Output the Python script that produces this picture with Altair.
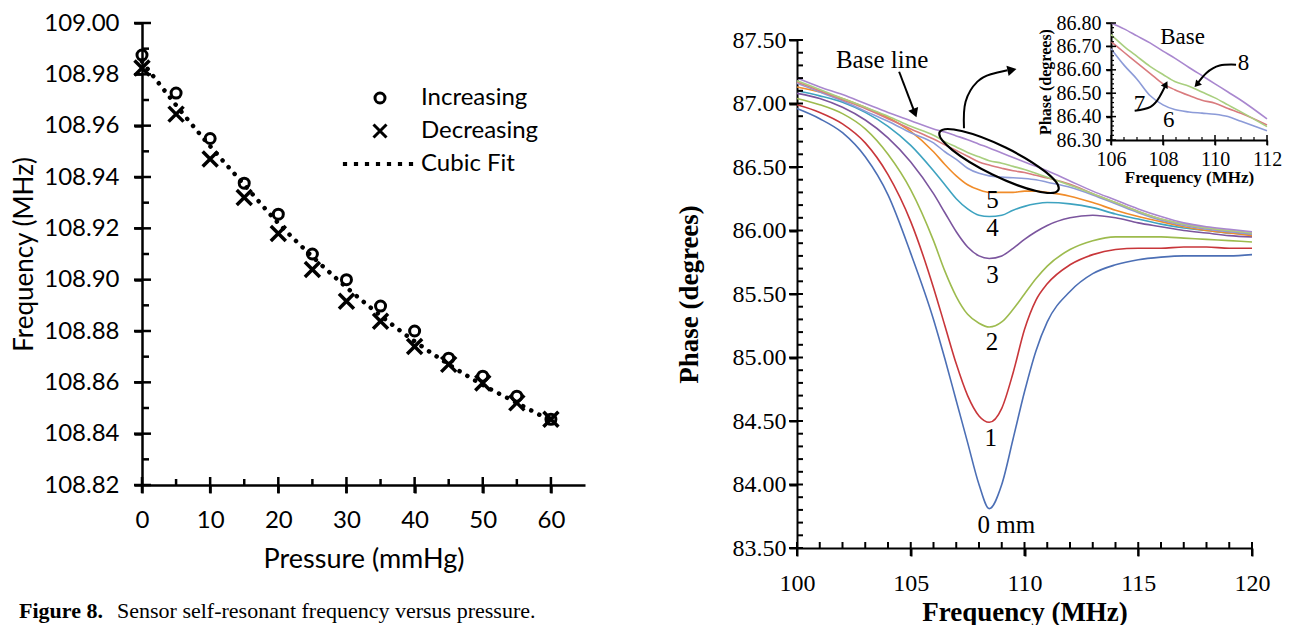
import altair as alt
import pandas as pd

# ------------------------------------------------------------------
# Left panel: sensor self-resonant frequency vs pressure
# ------------------------------------------------------------------
pressure_mmHg = [0, 5, 10, 15, 20, 25, 30, 35, 40, 45, 50, 55, 60]
freq_increasing = [108.9875, 108.9727, 108.9550, 108.9376, 108.9255, 108.9100, 108.9000,
                   108.8897, 108.8800, 108.8694, 108.8624, 108.8546, 108.8456]
freq_decreasing = [108.9825, 108.9645, 108.9470, 108.9320, 108.9180, 108.9040, 108.8916,
                   108.8838, 108.8740, 108.8670, 108.8597, 108.8520, 108.8456]
freq_cubic_fit = [108.9850, 108.9680, 108.9520, 108.9370, 108.9220, 108.9090, 108.8970,
                  108.8860, 108.8760, 108.8670, 108.8590, 108.8520, 108.8450]
series_names = ["Increasing", "Decreasing", "Cubic Fit"]

left_x_major = [0, 10, 20, 30, 40, 50, 60]
left_x_minor = [5, 15, 25, 35, 45, 55]
left_y_major = [108.82, 108.84, 108.86, 108.88, 108.90, 108.92, 108.94, 108.96, 108.98, 109.00]
left_y_minor = [108.83, 108.85, 108.87, 108.89, 108.91, 108.93, 108.95, 108.97, 108.99]

# ------------------------------------------------------------------
# Right panel: phase vs frequency for several distances
# ------------------------------------------------------------------
freq_MHz = [100, 101, 102, 103, 104, 105, 106, 106.5, 107, 107.5, 108, 108.45, 109, 109.5,
            110, 110.5, 111, 112, 113, 114, 115, 116, 117, 118, 119, 120]
phase_0mm = [86.96, 86.88, 86.77, 86.58, 86.28, 85.82, 85.30, 84.99, 84.66, 84.33, 84.00, 83.81,
             84.00, 84.36, 84.73, 85.05, 85.28, 85.52, 85.66, 85.73, 85.77, 85.79, 85.80, 85.80,
             85.80, 85.81]
phase_1mm = [86.99, 86.93, 86.84, 86.69, 86.44, 86.07, 85.55, 85.25, 84.95, 84.70, 84.54, 84.49,
             84.60, 84.88, 85.22, 85.45, 85.58, 85.73, 85.81, 85.85, 85.86, 85.86, 85.87, 85.87,
             85.86, 85.86]
phase_2mm = [87.04, 86.99, 86.92, 86.80, 86.60, 86.32, 85.92, 85.68, 85.48, 85.34, 85.27, 85.24,
             85.28, 85.38, 85.50, 85.62, 85.72, 85.85, 85.92, 85.95, 85.95, 85.95, 85.94, 85.93,
             85.92, 85.91]
phase_3mm = [87.08, 87.04, 86.97, 86.87, 86.73, 86.54, 86.29, 86.14, 85.99, 85.87, 85.80, 85.78,
             85.80, 85.86, 85.93, 85.99, 86.04, 86.10, 86.12, 86.10, 86.06, 86.03, 86.00, 85.98,
             85.96, 85.95]
phase_4mm = [87.10, 87.06, 87.01, 86.93, 86.82, 86.67, 86.47, 86.36, 86.25, 86.17, 86.12, 86.11,
             86.12, 86.16, 86.19, 86.21, 86.22, 86.21, 86.18, 86.13, 86.09, 86.05, 86.02, 86.00,
             85.98, 85.97]
phase_5mm = [87.13, 87.09, 87.04, 86.97, 86.89, 86.78, 86.62, 86.52, 86.43, 86.36, 86.32, 86.30,
             86.30, 86.30, 86.31, 86.31, 86.30, 86.27, 86.22, 86.16, 86.11, 86.07, 86.03, 86.00,
             85.98, 85.96]
phase_6mm = [87.16, 87.09, 87.02, 86.94, 86.86, 86.77, 86.69, 86.62, 86.56, 86.49, 86.45, 86.43,
             86.42, 86.415, 86.41, 86.40, 86.38, 86.34, 86.28, 86.21, 86.14, 86.08, 86.04, 86.01,
             85.99, 85.97]
phase_7mm = [87.17, 87.10, 87.03, 86.96, 86.88, 86.80, 86.72, 86.675, 86.63, 86.585, 86.54, 86.515,
             86.49, 86.47, 86.457, 86.435, 86.414, 86.364, 86.29, 86.22, 86.15, 86.09, 86.05, 86.02,
             86.00, 85.98]
phase_8mm = [87.18, 87.11, 87.04, 86.97, 86.90, 86.82, 86.75, 86.70, 86.657, 86.615, 86.58, 86.55,
             86.53, 86.505, 86.48, 86.45, 86.42, 86.357, 86.29, 86.22, 86.15, 86.09, 86.05, 86.02,
             86.00, 85.98]
phase_base = [87.20, 87.13, 87.07, 87.00, 86.93, 86.865, 86.80, 86.775, 86.745, 86.715, 86.68, 86.65,
              86.61, 86.575, 86.54, 86.505, 86.47, 86.39, 86.31, 86.24, 86.17, 86.11, 86.06, 86.03,
              86.01, 85.99]

curve_names = ["0 mm", "1 mm", "2 mm", "3 mm", "4 mm", "5 mm", "6 mm", "7 mm", "8 mm", "Base line"]
curve_values = [phase_0mm, phase_1mm, phase_2mm, phase_3mm, phase_4mm, phase_5mm,
                phase_6mm, phase_7mm, phase_8mm, phase_base]
curve_colors = ["#4C6FB5", "#C8363A", "#9DBB4E", "#7B559E", "#3EA3C0", "#F08C2A",
                "#8C9BD8", "#D97B7E", "#A9CF7F", "#A987CF"]

right_x_major = [100, 105, 110, 115, 120]
right_x_all = list(range(100, 121))
right_y_major = [83.5, 84.0, 84.5, 85.0, 85.5, 86.0, 86.5, 87.0, 87.5]
right_y_all = [round(83.5 + 0.1 * i, 1) for i in range(41)]
inset_x_major = [106, 108, 110, 112]
inset_x_minor = [106.5, 107, 107.5, 108.5, 109, 109.5, 110.5, 111, 111.5]
inset_y_major = [86.3, 86.4, 86.5, 86.6, 86.7, 86.8]
inset_y_minor = [round(86.3 + 0.02 * i, 2) for i in range(26) if i % 5 != 0]

# annotation tables (data coordinates)
main_label_text = ["Base line", "5", "4", "3", "2", "1", "0 mm"]
main_label_f = [103.74, 108.59, 108.59, 108.59, 108.57, 108.52, 109.2]
main_label_v = [87.34, 86.24, 86.02, 85.65, 85.12, 84.37, 83.68]

arrow_id = ["big"] * 5 + ["base"] * 2
arrow_f = [107.34, 107.41, 107.93, 108.52, 109.25, 104.49, 105.15]
arrow_v = [86.805, 87.014, 87.172, 87.230, 87.262, 87.25, 86.94]
head_f = [109.45, 105.18]
head_v = [87.265, 86.925]
head_angle = [348, 69]

ellipse_f = [108.88]
ellipse_v = [86.547]

inset_label_text = ["Base", "8", "7", "6"]
inset_label_f = [108.75, 111.1, 107.1, 108.22]
inset_label_v = [86.742, 86.627, 86.455, 86.386]
inset_arrow_id = ["a8"] * 4 + ["a7"] * 4
inset_arrow_f = [110.81, 110.18, 109.67, 109.32, 106.91, 107.52, 107.87, 108.10]
inset_arrow_v = [86.622, 86.618, 86.586, 86.540, 86.425, 86.442, 86.485, 86.534]
inset_head_f = [109.30, 108.11]
inset_head_v = [86.537, 86.538]
inset_head_angle = [132, 298]

# ------------------------------------------------------------------
# Tables
# ------------------------------------------------------------------
df_pts = pd.DataFrame({
    "pressure": pressure_mmHg * 2,
    "freq": freq_increasing + freq_decreasing,
    "series": ["Increasing"] * len(pressure_mmHg) + ["Decreasing"] * len(pressure_mmHg),
})
df_fit = pd.DataFrame({"pressure": pressure_mmHg, "freq": freq_cubic_fit})

rows = []
for name, vals in zip(curve_names, curve_values):
    for f, v in zip(freq_MHz, vals):
        rows.append({"f": f, "v": v, "curve": name})
df_curves = pd.DataFrame(rows)

df_main_labels = pd.DataFrame({"t": main_label_text, "f": main_label_f, "v": main_label_v})
df_arrows = pd.DataFrame({"id": arrow_id, "f": arrow_f, "v": arrow_v,
                          "o": list(range(len(arrow_f)))})
df_heads = pd.DataFrame({"f": head_f, "v": head_v, "a": head_angle})
df_ellipse = pd.DataFrame({"f": ellipse_f, "v": ellipse_v})
df_inset_labels = pd.DataFrame({"t": inset_label_text, "f": inset_label_f, "v": inset_label_v})
df_inset_arrows = pd.DataFrame({"id": inset_arrow_id, "f": inset_arrow_f, "v": inset_arrow_v,
                                "o": list(range(len(inset_arrow_f)))})
df_inset_heads = pd.DataFrame({"f": inset_head_f, "v": inset_head_v, "a": inset_head_angle})

SANS = "Lato"
SERIF = "Liberation Serif"


def hticks(values, field, scale, x0, x1, width):
    """horizontal tick marks on a y axis"""
    return alt.Chart(pd.DataFrame({field: values})).mark_rule(color="black", strokeWidth=width).encode(
        y=alt.Y(f"{field}:Q", scale=scale, axis=None), x=alt.value(x0), x2=alt.value(x1))


def vticks(values, field, scale, y0, y1, width):
    """vertical tick marks on an x axis"""
    return alt.Chart(pd.DataFrame({field: values})).mark_rule(color="black", strokeWidth=width).encode(
        x=alt.X(f"{field}:Q", scale=scale, axis=None), y=alt.value(y0), y2=alt.value(y1))


# ------------------------------------------------------------------
# Left chart
# ------------------------------------------------------------------
LW, LH = 443, 445
X_PATH = "M-1.3,-1.3L1.3,1.3M1.3,-1.3L-1.3,1.3"
DOTS_PATH = " ".join(f"M{x - 0.12:.2f},-0.12h0.24v0.24h-0.24Z" for x in [-7, -4.8, -2.6, -0.4, 1.8, 4.0, 6.2])

lx_scale = alt.Scale(domain=[0, 65], nice=False, zero=False)
ly_scale = alt.Scale(domain=[108.82, 109.0], range=[LH, -17], nice=False, zero=False)

lx_outer = alt.Axis(values=left_x_major, tickSize=8, title="Pressure (mmHg)", labelFont=SANS,
                    labelFontSize=24, titleFont=SANS, titleFontSize=27, titleFontWeight="normal",
                    domainWidth=2.5, tickWidth=2.5, labelPadding=15, titlePadding=14, format="d",
                    labelOverlap=False)
ly_outer = alt.Axis(values=left_y_major, tickSize=8, format=".2f", title="Frequency (MHz)",
                    labelFont=SANS, labelFontSize=24, titleFont=SANS, titleFontSize=26,
                    titleFontWeight="normal", domainWidth=2.5, tickWidth=2.5, labelPadding=15,
                    titlePadding=6, labelOverlap=False)

shape_scale = alt.Scale(domain=series_names, range=["circle", X_PATH, DOTS_PATH])
legend = alt.Legend(orient="none", legendX=226, legendY=46, title=None, labelFont=SANS, labelFontSize=24,
                    symbolSize=100, symbolStrokeWidth=3, symbolStrokeColor="black", labelOffset=29,
                    rowPadding=8, padding=0, labelColor="black")

fit_line = alt.Chart(df_fit).mark_line(color="black", strokeDash=[0.1, 9], strokeCap="round",
                                       strokeWidth=4.5, interpolate="monotone").encode(
    x=alt.X("pressure:Q", scale=lx_scale, axis=lx_outer),
    y=alt.Y("freq:Q", scale=ly_scale, axis=ly_outer),
)
xs = alt.Chart(df_pts).transform_filter("datum.series == 'Decreasing'").mark_point(
    filled=False, color="black", strokeWidth=3.5, size=133, opacity=1).encode(
    x=alt.X("pressure:Q", scale=lx_scale, axis=None),
    y=alt.Y("freq:Q", scale=ly_scale, axis=None),
    shape=alt.Shape("series:N", scale=shape_scale, legend=legend),
)
circles = alt.Chart(df_pts).transform_filter("datum.series == 'Increasing'").mark_point(
    filled=False, color="black", strokeWidth=3, size=100, opacity=1).encode(
    x=alt.X("pressure:Q", scale=lx_scale, axis=None),
    y=alt.Y("freq:Q", scale=ly_scale, axis=None),
    shape=alt.Shape("series:N", scale=shape_scale, legend=legend),
)
left_ticks = [
    hticks(left_y_major, "freq", ly_scale, -8, 9, 2.5),
    hticks(left_y_minor, "freq", ly_scale, 0, 7, 2.5),
    vticks(left_x_major, "pressure", lx_scale, LH + 8, LH - 8, 2.5),
    vticks(left_x_minor, "pressure", lx_scale, LH, LH - 6, 2.5),
]
cap_bold = alt.Chart(pd.DataFrame({"t": ["Figure 8."]})).mark_text(
    font=SERIF, fontSize=22, fontWeight="bold", align="left", baseline="middle", color="black").encode(
    text="t:N", x=alt.value(-123), y=alt.value(571))
cap_rest = alt.Chart(pd.DataFrame({"t": ["Sensor self-resonant frequency versus pressure."]})).mark_text(
    font=SERIF, fontSize=22, align="left", baseline="middle", color="black").encode(
    text="t:N", x=alt.value(-25), y=alt.value(571))

left = alt.layer(fit_line, *left_ticks, xs, circles, cap_bold, cap_rest).resolve_axis(
    x="independent", y="independent").properties(width=LW, height=LH)

# ------------------------------------------------------------------
# Right chart
# ------------------------------------------------------------------
RW, RH = 455, 508
color_scale = alt.Scale(domain=curve_names, range=curve_colors)
mx_scale = alt.Scale(domain=[100, 120], nice=False, zero=False)
my_scale = alt.Scale(domain=[83.5, 87.5], nice=False, zero=False)

mx_outer = alt.Axis(values=right_x_major, tickSize=8, title="Frequency (MHz)", labelFont=SERIF,
                    labelFontSize=24, titleFont=SERIF, titleFontSize=27, titleFontWeight="bold",
                    domainWidth=2, tickWidth=2, labelPadding=15, titlePadding=4, format="d",
                    labelOverlap=False)
my_outer = alt.Axis(values=right_y_major, tickSize=8, format=".2f", title="Phase (degrees)",
                    labelFont=SERIF, labelFontSize=24, titleFont=SERIF, titleFontSize=27,
                    titleFontWeight="bold", domainWidth=2, tickWidth=2, labelPadding=3,
                    titlePadding=29, labelOverlap=False)

main_lines = alt.Chart(df_curves).mark_line(strokeWidth=1.6, interpolate="monotone").encode(
    x=alt.X("f:Q", scale=mx_scale, axis=mx_outer),
    y=alt.Y("v:Q", scale=my_scale, axis=my_outer),
    color=alt.Color("curve:N", scale=color_scale, legend=None),
    order=alt.Order("f:Q"),
)
main_ticks = [
    hticks(right_y_major, "v", my_scale, -8, 0, 2),
    hticks(right_y_all, "v", my_scale, 0, 6, 2),
    vticks(right_x_major, "f", mx_scale, RH + 8, RH, 2),
    vticks(right_x_all, "f", mx_scale, RH, RH - 6, 2),
]
ELLIPSE = "M-1,0A1,0.227,0,1,1,1,0A1,0.227,0,1,1,-1,0Z"
ellipse = alt.Chart(df_ellipse).mark_point(shape=ELLIPSE, size=17424, angle=26, filled=False,
                                           color="black", strokeWidth=2.2, opacity=1).encode(
    x=alt.X("f:Q", scale=mx_scale, axis=None), y=alt.Y("v:Q", scale=my_scale, axis=None))
arrows = alt.Chart(df_arrows).mark_line(color="black", strokeWidth=2, interpolate="natural").encode(
    x=alt.X("f:Q", scale=mx_scale, axis=None), y=alt.Y("v:Q", scale=my_scale, axis=None),
    detail="id:N", order="o:Q")
heads = alt.Chart(df_heads).mark_point(shape="triangle-right", filled=True, color="black", size=110,
                                       opacity=1).encode(
    x=alt.X("f:Q", scale=mx_scale, axis=None), y=alt.Y("v:Q", scale=my_scale, axis=None),
    angle=alt.Angle("a:Q", scale=None))
main_text = alt.Chart(df_main_labels).mark_text(font=SERIF, fontSize=25, color="black",
                                                align="center", baseline="middle").encode(
    x=alt.X("f:Q", scale=mx_scale, axis=None), y=alt.Y("v:Q", scale=my_scale, axis=None), text="t:N")

right_main = alt.layer(main_lines, *main_ticks, ellipse, arrows, heads, main_text).resolve_axis(
    x="independent", y="independent")

# inset
IX0, IX1 = 314, 470
IYB, IYT = 100, -17
ix_scale = alt.Scale(domain=[106, 112], range=[IX0, IX1], nice=False, zero=False)
iy_scale = alt.Scale(domain=[86.3, 86.8], range=[IYB, IYT], nice=False, zero=False)

ix_outer = alt.Axis(values=inset_x_major, orient="bottom", offset=IYB - RH, tickSize=5, format="d",
                    title="Frequency (MHz)", labelFont=SERIF, labelFontSize=20, titleFont=SERIF,
                    titleFontSize=17, titleFontWeight="bold", domainWidth=2, tickWidth=1.5,
                    labelPadding=4, titlePadding=0, labelOverlap=False)
iy_outer = alt.Axis(values=inset_y_major, orient="left", offset=-IX0, tickSize=5, format=".2f",
                    title="Phase (degrees)", labelFont=SERIF, labelFontSize=20, titleFont=SERIF,
                    titleFontSize=16, titleFontWeight="bold", domainWidth=2, tickWidth=1.5,
                    labelPadding=5, titlePadding=3, labelOverlap=False)

inset_filter = ("datum.f >= 106 && datum.f <= 112 && "
                "indexof(['6 mm','7 mm','8 mm','Base line'], datum.curve) >= 0")
inset_lines = alt.Chart(df_curves).transform_filter(inset_filter).mark_line(
    strokeWidth=1.6, interpolate="monotone").encode(
    x=alt.X("f:Q", scale=ix_scale, axis=ix_outer),
    y=alt.Y("v:Q", scale=iy_scale, axis=iy_outer),
    color=alt.Color("curve:N", scale=color_scale, legend=None),
    order=alt.Order("f:Q"),
)
inset_ticks = [
    hticks(inset_y_major, "v", iy_scale, IX0 - 5, IX0 + 5, 1.5),
    hticks(inset_y_minor, "v", iy_scale, IX0, IX0 + 3, 1.2),
    vticks(inset_x_major, "f", ix_scale, IYB + 5, IYB - 5, 1.5),
    vticks(inset_x_minor, "f", ix_scale, IYB, IYB - 3, 1.2),
]
inset_arrows = alt.Chart(df_inset_arrows).mark_line(color="black", strokeWidth=2,
                                                    interpolate="natural").encode(
    x=alt.X("f:Q", scale=ix_scale, axis=None), y=alt.Y("v:Q", scale=iy_scale, axis=None),
    detail="id:N", order="o:Q")
inset_heads = alt.Chart(df_inset_heads).mark_point(shape="triangle-right", filled=True, color="black",
                                                   size=60, opacity=1).encode(
    x=alt.X("f:Q", scale=ix_scale, axis=None), y=alt.Y("v:Q", scale=iy_scale, axis=None),
    angle=alt.Angle("a:Q", scale=None))
inset_text = alt.Chart(df_inset_labels).mark_text(font=SERIF, fontSize=23, color="black",
                                                  align="center", baseline="middle").encode(
    x=alt.X("f:Q", scale=ix_scale, axis=None), y=alt.Y("v:Q", scale=iy_scale, axis=None), text="t:N")

right_inset = alt.layer(inset_lines, *inset_ticks, inset_arrows, inset_heads, inset_text).resolve_axis(
    x="independent", y="independent")

right = alt.layer(right_main, right_inset).resolve_scale(
    x="independent", y="independent").properties(width=RW, height=RH)

chart = alt.hconcat(left, right, spacing=90).properties(
    padding={"left": 3, "top": 3, "right": 0, "bottom": 0}
).configure_view(stroke=None).configure_axis(
    grid=False, domainColor="black", tickColor="black", labelColor="black", titleColor="black",
    labelFlush=False
)

chart.save("out.html", embed_options={"renderer": "svg", "actions": False})
